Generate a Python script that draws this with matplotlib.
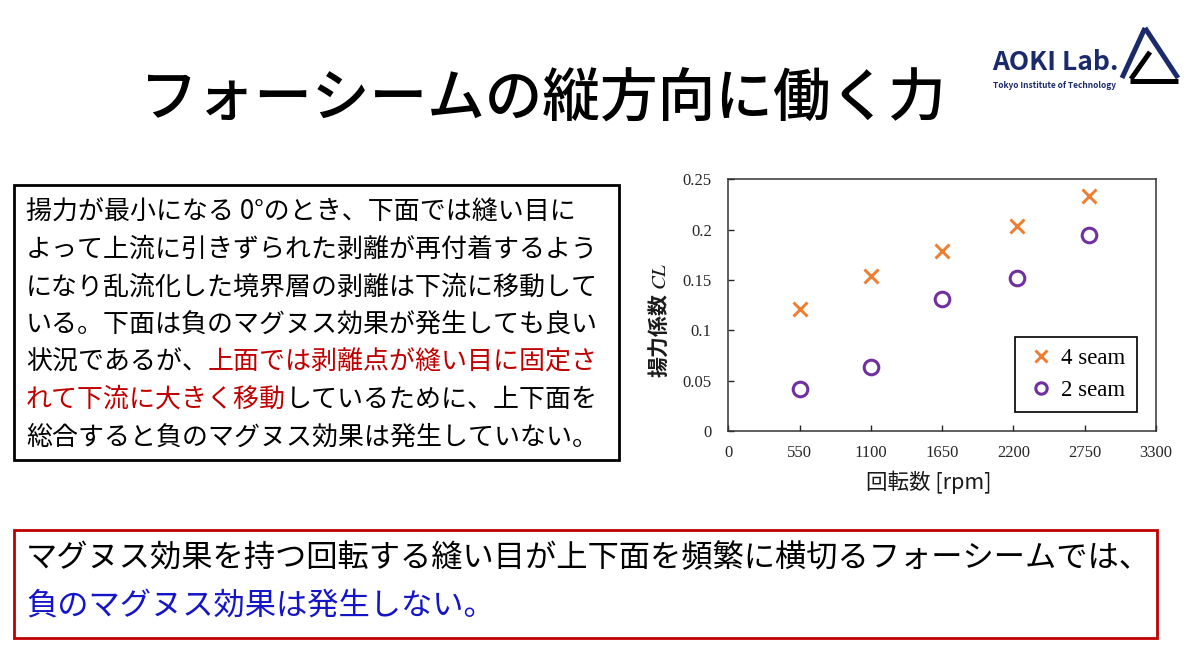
import matplotlib
matplotlib.use('Agg')
import matplotlib.pyplot as plt
from matplotlib.lines import Line2D
from matplotlib.patches import Rectangle

plt.rcParams['font.family'] = ['Noto Sans CJK JP', 'DejaVu Sans']
plt.rcParams['mathtext.fontset'] = 'stix'

# data
rpm = [550, 1100, 1650, 2225, 2780]
cl_4seam = [0.121, 0.154, 0.179, 0.204, 0.233]
cl_2seam = [0.042, 0.064, 0.131, 0.152, 0.195]
series_names = ['4 seam', '2 seam']
x_ticks = [0, 550, 1100, 1650, 2200, 2750, 3300]
x_tick_labels = ['0', '550', '1100', '1650', '2200', '2750', '3300']
y_ticks = [0, 0.05, 0.1, 0.15, 0.2, 0.25]
y_tick_labels = ['0', '0.05', '0.1', '0.15', '0.2', '0.25']

title = 'フォーシームの縦方向に働く力'
x_label = '回転数 [rpm]'
y_label = '揚力係数 $CL$'

RED = '#C00000'
BLUE = '#1515C8'
left_lines = [
    [('揚力が最小になる 0°のとき、下面では縫い目に', 'black')],
    [('よって上流に引きずられた剥離が再付着するよう', 'black')],
    [('になり乱流化した境界層の剥離は下流に移動して', 'black')],
    [('いる。下面は負のマグヌス効果が発生しても良い', 'black')],
    [('状況であるが、', 'black'), ('上面では剥離点が縫い目に固定さ', RED)],
    [('れて下流に大きく移動', RED), ('しているために、上下面を', 'black')],
    [('総合すると負のマグヌス効果は発生していない。', 'black')],
]
bottom_lines = [
    [('マグヌス効果を持つ回転する縫い目が上下面を頻繁に横切るフォーシームでは、', 'black')],
    [('負のマグヌス効果は発生しない。', BLUE)],
]

W, H = 1200, 649


def fx(x):
    return x / W


def fy(y):
    return 1 - y / H


def draw_lines(fig, lines, x0, y0, step, size):
    # draw each line piece by piece so that colours can change inside a line
    renderer = fig.canvas.get_renderer()
    for i, parts in enumerate(lines):
        x = x0
        for s, c in parts:
            t = fig.text(fx(x), fy(y0 + i * step), s, fontsize=size, color=c,
                         ha='left', va='center')
            bb = t.get_window_extent(renderer)
            x = bb.x1 * W / fig.bbox.width


fig = plt.figure(figsize=(12, 6.49), dpi=100)
fig.patch.set_facecolor('white')

# title
fig.text(fx(140), fy(100), title, fontsize=41.5, fontweight='medium',
         ha='left', va='center', color='black')

# logo
navy = '#1B2A6B'
fig.text(fx(992), fy(62), 'AOKI Lab.', fontsize=19, fontweight='bold', color=navy,
         ha='left', va='center')
fig.text(fx(993), fy(85), 'Tokyo Institute of Technology', fontsize=6.0, fontweight='bold',
         color=navy, ha='left', va='center')
for (xa, ya), (xb, yb), col in [((1145, 28), (1122, 78), navy), ((1145, 28), (1178, 78), navy),
                                ((1150, 52), (1131, 79), 'black'), ((1130, 81), (1178, 81), 'black')]:
    fig.add_artist(Line2D([fx(xa), fx(xb)], [fy(ya), fy(yb)], color=col, lw=3.6,
                          solid_capstyle='butt', transform=fig.transFigure))

# left text box
fig.add_artist(Rectangle((fx(14), fy(460)), fx(619) - fx(14), fy(185) - fy(460),
                         fill=False, edgecolor='black', lw=2, transform=fig.transFigure))
draw_lines(fig, left_lines, 26, 212, 37.5, 18.7)

# bottom text box
fig.add_artist(Rectangle((fx(14), fy(638)), fx(1157) - fx(14), fy(530) - fy(638),
                         fill=False, edgecolor=RED, lw=2, transform=fig.transFigure))
draw_lines(fig, bottom_lines, 26, 558, 48, 22.5)

# chart
ax = fig.add_axes([fx(728.3), fy(431), fx(1156) - fx(728.3), fy(179.3) - fy(431)])
ax.plot(rpm, cl_4seam, linestyle='none', marker='x', markersize=10.5, markeredgewidth=2.1,
        color='#ED7D31', label=series_names[0])
ax.plot(rpm, cl_2seam, linestyle='none', marker='o', markersize=10.5, markeredgewidth=2.2,
        markerfacecolor='none', markeredgecolor='#7030A0', label=series_names[1])

ax.set_xlim(0, 3300)
ax.set_ylim(0, 0.25)
ax.set_xticks(x_ticks)
ax.set_xticklabels(x_tick_labels)
ax.set_yticks(y_ticks)
ax.set_yticklabels(y_tick_labels)
for lab in ax.get_xticklabels() + ax.get_yticklabels():
    lab.set_family(['Liberation Serif', 'DejaVu Serif'])
    lab.set_fontsize(12)
    lab.set_color('#262626')
ax.tick_params(axis='both', direction='in', length=4, width=1, colors='#262626')
ax.tick_params(axis='x', pad=10, top=False)
ax.tick_params(axis='y', pad=12, right=False)
for sp in ax.spines.values():
    sp.set_color('#333333')
    sp.set_linewidth(1.1)

ax.set_xlabel(x_label, fontsize=15.5, color='#1a1a1a')
ax.xaxis.set_label_coords(0.469, -0.158)
ax.set_ylabel(y_label, fontsize=15, fontweight='bold', color='#1a1a1a')
ax.yaxis.set_label_coords(-0.136, 0.44)

leg = ax.legend(loc='upper left', bbox_to_anchor=(fx(1015), fy(336.7)),
                bbox_transform=fig.transFigure, borderaxespad=0, fancybox=False,
                framealpha=1, edgecolor='black', borderpad=0.5, handlelength=1.3,
                handletextpad=0.2, labelspacing=0.45, markerscale=0.78,
                prop={'family': ['Liberation Serif', 'DejaVu Serif'], 'size': 16.5})
leg.get_frame().set_linewidth(1.2)

plt.savefig('out.png', dpi=100)
plt.close()
